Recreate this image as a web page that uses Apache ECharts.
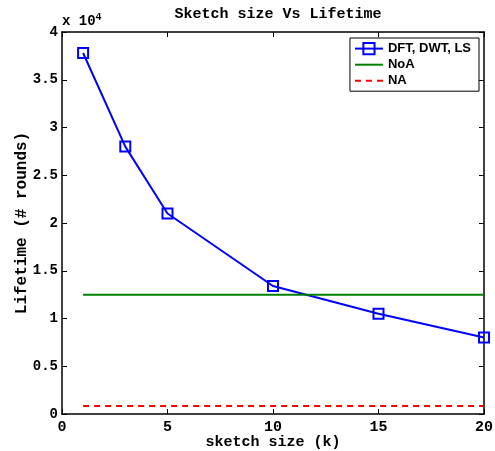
<!DOCTYPE html>
<html>
<head>
<meta charset="utf-8">
<script src="https://cdn.jsdelivr.net/npm/echarts@6/dist/echarts.min.js"></script>
<style>
  html, body { margin: 0; padding: 0; background: #fff; }
  #main { width: 495px; height: 451px; }
</style>
</head>
<body>
<div id="main"></div>
<script>
// sketch size (k)
var sketchSize = [1, 3, 5, 10, 15, 20];
// lifetime (# rounds)
var dftLifetime = [37800, 28000, 21000, 13400, 10500, 8000];
var noaLifetime = [12500, 12500];
var naLifetime = [850, 850];
var flatX = [1, 20];
var yTicks = [0, 0.5, 1, 1.5, 2, 2.5, 3, 3.5, 4];

var monoFont = "Liberation Mono";
var myChart = echarts.init(document.getElementById("main"));

function pairs(xs, ys) {
  return xs.map(function(x, i) { return [x, ys[i]]; });
}

var axisBase = {
  type: "value",
  axisLine: { show: true, onZero: false, lineStyle: { color: "#000", width: 1.5 } },
  axisTick: { show: true, inside: true, length: 5, lineStyle: { color: "#000", width: 1 } },
  splitLine: { show: false }
};

// hide the legend symbol of plain line series, keep the line
var noMark = { color: "rgba(0,0,0,0)", borderWidth: 0 };

var option = {
  animation: false,
  backgroundColor: "#fff",
  title: {
    text: "Sketch size Vs Lifetime",
    left: 273,
    textAlign: "center",
    top: 2,
    textStyle: { fontFamily: monoFont, fontWeight: "bold", fontSize: 15, color: "#000" }
  },
  grid: { left: 62, right: 11, top: 32, bottom: 37, containLabel: false, outerBoundsMode: "none" },
  legend: {
    orient: "vertical",
    right: 16,
    top: 38,
    padding: [4, 8, 4, 4],
    itemGap: 3,
    itemWidth: 28,
    itemHeight: 14,
    borderColor: "#000",
    borderWidth: 1,
    backgroundColor: "#fff",
    borderRadius: 0,
    textStyle: { fontFamily: "Liberation Sans", fontWeight: "bold", fontSize: 13, color: "#000" },
    data: [
      { name: "DFT, DWT, LS" },
      { name: "NoA", itemStyle: noMark },
      { name: "NA", itemStyle: noMark }
    ]
  },
  xAxis: [
    Object.assign({}, axisBase, {
      min: 0, max: 20, interval: 5,
      position: "bottom",
      name: "sketch size (k)",
      nameLocation: "middle",
      nameGap: 21,
      nameMoveOverlap: false,
      nameTextStyle: { fontFamily: monoFont, fontWeight: "bold", fontSize: 15, color: "#000" },
      axisLabel: { fontFamily: monoFont, fontWeight: "bold", fontSize: 15, color: "#000", margin: 6 }
    }),
    Object.assign({}, axisBase, {
      min: 0, max: 20, interval: 5,
      position: "top",
      axisLabel: { show: false }
    })
  ],
  yAxis: [
    Object.assign({}, axisBase, {
      min: 0, max: 40000, interval: 5000,
      position: "left",
      name: "Lifetime (# rounds)",
      nameLocation: "middle",
      nameGap: 32,
      nameMoveOverlap: false,
      nameTextStyle: { fontFamily: monoFont, fontWeight: "bold", fontSize: 16, color: "#000" },
      axisLabel: {
        fontFamily: monoFont, fontWeight: "bold", fontSize: 14, color: "#000", margin: 4,
        formatter: function(v) { return String(yTicks[Math.round(v / 5000)]); }
      }
    }),
    Object.assign({}, axisBase, {
      min: 0, max: 40000, interval: 5000,
      position: "right",
      axisLabel: { show: false }
    })
  ],
  graphic: [{
    type: "text",
    left: 62,
    top: 12,
    style: {
      text: "{a|x 10}{b|4}",
      rich: {
        a: { fontFamily: monoFont, fontWeight: "bold", fontSize: 14, fill: "#000" },
        b: { fontFamily: monoFont, fontWeight: "bold", fontSize: 10, fill: "#000", verticalAlign: "top", padding: [0, 0, 8, 0] }
      }
    }
  }],
  series: [
    {
      name: "DFT, DWT, LS",
      type: "line",
      data: pairs(sketchSize, dftLifetime),
      symbol: "rect",
      symbolSize: 10,
      lineStyle: { color: "#0000ff", width: 2 },
      itemStyle: { color: "rgba(255,255,255,0)", borderColor: "#0000ff", borderWidth: 2 }
    },
    {
      name: "NoA",
      type: "line",
      data: pairs(flatX, noaLifetime),
      symbol: "none",
      lineStyle: { color: "#007f00", width: 2 },
      itemStyle: { color: "#007f00" }
    },
    {
      name: "NA",
      type: "line",
      data: pairs(flatX, naLifetime),
      symbol: "none",
      lineStyle: { color: "#ff0000", width: 2, type: [6, 5] },
      itemStyle: { color: "#ff0000" }
    }
  ]
};

myChart.setOption(option);
</script>
</body>
</html>
